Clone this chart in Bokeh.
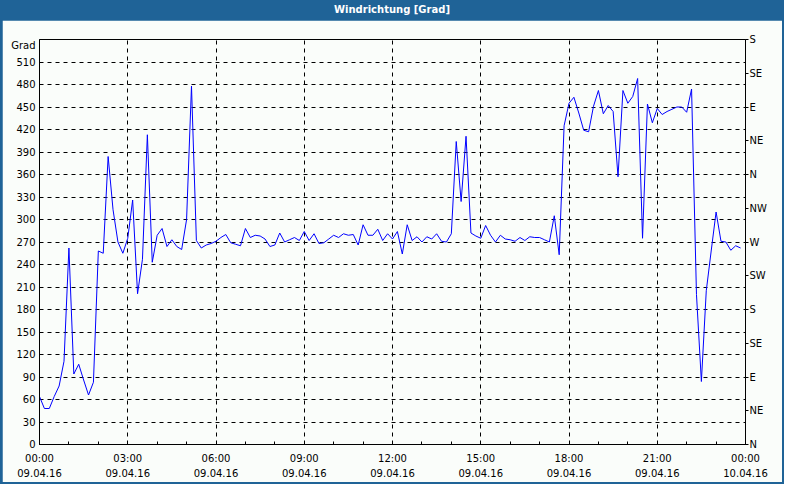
from bokeh.plotting import figure
from bokeh.models import LinearAxis, FixedTicker, Div, Range1d
from bokeh.layouts import column
from bokeh.embed import file_html
from bokeh.resources import INLINE

# ---- data (10-minute wind direction readings, 09.04.16 00:00 .. 23:50) ----
direction = [
    64, 48, 48, 64, 78, 111, 262, 94, 107, 86,
    66, 83, 258, 255, 384, 313, 270, 255, 275, 326,
    201, 247, 413, 243, 279, 288, 264, 273, 264, 260,
    300, 478, 272, 262, 266, 268, 271, 276, 280, 269,
    267, 265, 288, 276, 279, 278, 274, 264, 266, 282,
    270, 273, 276, 272, 284, 272, 281, 268, 269, 274,
    279, 276, 281, 279, 280, 266, 293, 279, 279, 287,
    272, 281, 274, 284, 254, 293, 272, 277, 270, 277,
    274, 281, 271, 270, 281, 404, 324, 411, 282, 278,
    275, 292, 279, 270, 279, 274, 273, 271, 276, 272,
    277, 276, 276, 273, 270, 305, 253, 425, 455, 463,
    442, 419, 417, 451, 472, 441, 452, 444, 357, 472,
    455, 464, 488, 275, 454, 429, 448, 440, 444, 447,
    450, 450, 443, 474, 200, 84, 205, 258, 310, 271,
    270, 259, 265, 262,
]
sample_minutes = 10
hours = [i * sample_minutes / 60 for i in range(len(direction))]

x_tick_hours = [0, 3, 6, 9, 12, 15, 18, 21, 24]
x_tick_labels = ["00:00\n09.04.16", "03:00\n09.04.16", "06:00\n09.04.16",
                 "09:00\n09.04.16", "12:00\n09.04.16", "15:00\n09.04.16",
                 "18:00\n09.04.16", "21:00\n09.04.16", "00:00\n10.04.16"]
y_ticks = list(range(0, 511, 30))
compass_ticks = list(range(0, 541, 45))
compass_labels = ["N", "NE", "E", "SE", "S", "SW", "W", "NW",
                  "N", "NE", "E", "SE", "S"]

title_text = "Windrichtung [Grad]"
unit_text = "Grad"
unit_label_level = 532

# ---- styling ----
BG = "#FAFDFA"
BAR = "#1F6397"
FONT = "DejaVu Sans"
FS = "10px"

title_div = Div(text=title_text, width=784, height=20, margin=0,
                styles={"background-color": BAR, "color": "white",
                        "text-align": "center", "font-family": FONT,
                        "font-size": "10px", "font-weight": "bold",
                        "line-height": "20px"})

p = figure(width=780, height=462, output_backend="svg", toolbar_location=None,
           x_range=Range1d(0, 24), y_range=Range1d(0, 540),
           min_border_left=37, min_border_right=37,
           min_border_top=19, min_border_bottom=36,
           background_fill_color=BG, border_fill_color=BG,
           outline_line_color="black", outline_line_width=1)
p.margin = (0, 2, 2, 2)

p.line(hours, direction, line_color="#0000FF", line_width=1)

# left axis (with the unit shown as a label at the top)
ya = p.yaxis[0]
ya.ticker = FixedTicker(ticks=y_ticks + [unit_label_level])
ya.major_label_overrides = {unit_label_level: unit_text}
ya.major_tick_in = 0
ya.major_tick_out = 0
ya.minor_tick_in = 0
ya.minor_tick_out = 0
ya.major_label_standoff = 4
ya.axis_line_color = "black"
ya.major_label_text_font = FONT
ya.major_label_text_font_size = FS
ya.major_label_text_color = "black"

# right axis (compass)
ra = LinearAxis(ticker=FixedTicker(ticks=compass_ticks),
                major_label_overrides={t: l for t, l in zip(compass_ticks, compass_labels)})
ra.major_tick_in = 0
ra.major_tick_out = 3
ra.minor_tick_in = 0
ra.minor_tick_out = 0
ra.major_label_standoff = 1
ra.axis_line_color = "black"
ra.major_label_text_font = FONT
ra.major_label_text_font_size = FS
ra.major_label_text_color = "black"
p.add_layout(ra, "right")

# bottom axis
xa = p.xaxis[0]
xa.ticker = FixedTicker(ticks=x_tick_hours, minor_ticks=list(range(0, 25)))
xa.major_label_overrides = {t: l for t, l in zip(x_tick_hours, x_tick_labels)}
xa.major_tick_in = 3
xa.major_tick_out = 0
xa.minor_tick_in = 3
xa.minor_tick_out = 0
xa.major_label_standoff = 8
xa.axis_line_color = "black"
xa.major_label_text_font = FONT
xa.major_label_text_font_size = FS
xa.major_label_text_color = "black"
xa.major_label_text_line_height = 1.45

# grids
p.xgrid[0].ticker = FixedTicker(ticks=x_tick_hours)
p.ygrid[0].ticker = FixedTicker(ticks=y_ticks)
for g in (p.xgrid[0], p.ygrid[0]):
    g.grid_line_color = "black"
    g.grid_line_dash = "4 4"
    g.grid_line_width = 1

layout = column(title_div, p, spacing=0, margin=0,
                styles={"background-color": BAR})

open("out.html", "w").write(file_html(layout, INLINE))
